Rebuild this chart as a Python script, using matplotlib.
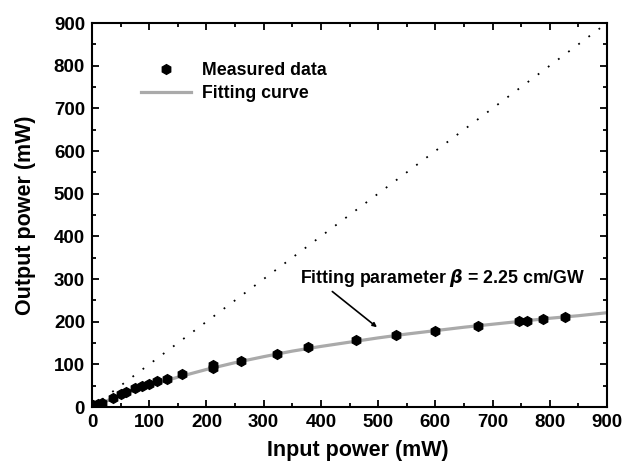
#!/usr/bin/env python3
"""
Output vs input power with two-photon absorption fit
"""

import matplotlib
matplotlib.use("Agg")
import matplotlib.pyplot as plt

# measured points (mW)
p_in = [2, 11, 17, 36, 50, 60, 75, 88, 100, 114, 131, 158, 212, 212,
        261, 323, 378, 462, 532, 600, 674, 746, 761, 788, 827]
p_out = [5, 8, 10, 20, 30, 35, 45, 49, 54, 60, 66, 77, 98, 91,
         109, 125, 140, 158, 168, 179, 190, 201, 202, 207, 212]

# fitting curve (beta = 2.25 cm/GW)
fit_in = [0, 25, 50, 100, 150, 200, 250, 300, 350, 400, 450, 500,
          550, 600, 650, 700, 750, 800, 850, 900]
fit_out = [0, 14, 28, 50, 70, 88, 104, 118, 131, 142, 152, 162,
           171, 179, 187, 194, 201, 208, 214, 221]

# linear reference (no absorption)
ref_in = [0, 900]
ref_out = [0, 900]

plt.rcParams['font.family'] = ['Liberation Sans', 'DejaVu Sans']
plt.rcParams['font.weight'] = 'bold'

fig = plt.figure(figsize=(6.22, 4.61), dpi=100)
ax = fig.add_axes([0.1479, 0.1171, 0.8280, 0.8330])

ax.plot(ref_in, ref_out, color='black', linestyle=(0, (1, 6)), linewidth=1.3)
ax.plot(fit_in, fit_out, color='#aaaaaa', linewidth=2.3, label='Fitting curve')
ax.plot(p_in, p_out, linestyle='none', marker='h', markersize=7,
        color='black', label='Measured data')

ax.set_xlim(0, 900)
ax.set_ylim(0, 900)
ax.set_xticks(range(0, 901, 100))
ax.set_yticks(range(0, 901, 100))
ax.set_xticks(range(50, 900, 100), minor=True)
ax.set_yticks(range(50, 900, 100), minor=True)
ax.tick_params(which='both', direction='in', top=True, right=True, width=1.3)
ax.tick_params(which='major', length=5, labelsize=13.5, pad=5)
ax.tick_params(which='minor', length=3)
for s in ax.spines.values():
    s.set_linewidth(1.5)

ax.set_xlabel('Input power (mW)', fontsize=15.5, fontweight='bold', labelpad=6.5)
ax.set_ylabel('Output power (mW)', fontsize=15.5, fontweight='bold', labelpad=13)
ax.xaxis.label.set_x(0.516)

h, l = ax.get_legend_handles_labels()
ax.legend(h[::-1], l[::-1], loc='upper left', bbox_to_anchor=(0.065, 0.94),
          frameon=False, fontsize=12.8, handlelength=2.8, labelspacing=0.35,
          handletextpad=0.6)

ax.annotate(r'Fitting parameter $\mathit{\beta}$ = 2.25 cm/GW', xy=(498, 187),
            xytext=(364, 303), fontsize=12.8, fontweight='bold',
            va='center', ha='left',
            arrowprops=dict(arrowstyle='-|>', color='black', lw=1.2,
                            shrinkA=0, shrinkB=0, mutation_scale=6,
                            relpos=(0.1, 0)))

plt.savefig('out.png', dpi=100)
